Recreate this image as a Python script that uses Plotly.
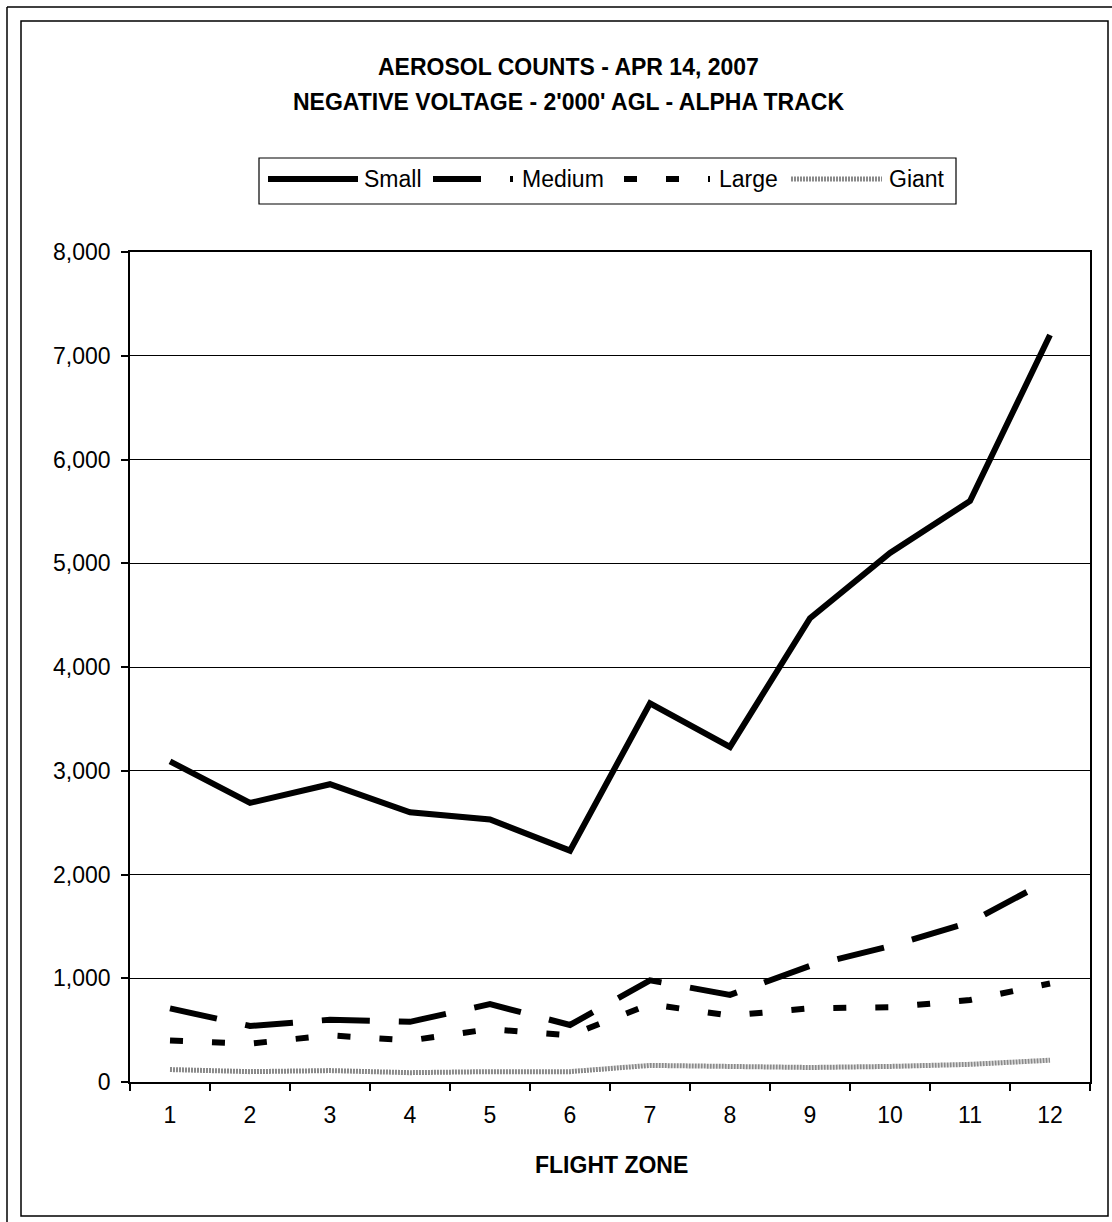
import plotly.graph_objects as go

# Flight zones and aerosol counts per particle size class
zones = ["1", "2", "3", "4", "5", "6", "7", "8", "9", "10", "11", "12"]
small = [3090, 2690, 2870, 2600, 2530, 2230, 3650, 3230, 4470, 5100, 5600, 7200]
medium = [710, 540, 600, 580, 750, 550, 980, 840, 1120, 1310, 1540, 1950]
large = [400, 370, 450, 400, 510, 450, 750, 640, 710, 720, 790, 950]
giant = [120, 100, 110, 90, 100, 100, 160, 150, 140, 150, 170, 210]

series_names = ["Small", "Medium", "Large", "Giant"]
y_ticks = [0, 1000, 2000, 3000, 4000, 5000, 6000, 7000, 8000]

title_lines = ["AEROSOL COUNTS - APR 14, 2007",
               "NEGATIVE VOLTAGE - 2'000' AGL - ALPHA TRACK"]
x_title = "FLIGHT ZONE"

W, H = 1112, 1222
L, R, T, B = 130, 22, 252, 140
PW, PH = W - L - R, H - T - B
FONT = "Liberation Sans, Arial, sans-serif"

styles = [
    dict(color="black", width=6, dash="solid"),
    dict(color="black", width=6, dash="48px,29px"),
    dict(color="black", width=6, dash="13px,29px"),
    dict(color="#8a8a8a", width=5, dash="2px,1px"),
]


def px(x):
    return (x - L) / PW


def py(y):
    return (H - B - y) / PH


fig = go.Figure()
for name, vals, st in zip(series_names, [small, medium, large, giant], styles):
    fig.add_trace(go.Scatter(x=zones, y=vals, name=name, mode="lines",
                             line=st, showlegend=False))

shapes = []
annotations = []

# page frames
shapes.append(dict(type="line", xref="paper", yref="paper",
                   x0=px(7), y0=py(7), x1=px(7), y1=py(1230),
                   line=dict(color="black", width=1.5)))
shapes.append(dict(type="line", xref="paper", yref="paper",
                   x0=px(7), y0=py(7), x1=px(1120), y1=py(7),
                   line=dict(color="black", width=1.5)))
shapes.append(dict(type="rect", xref="paper", yref="paper",
                   x0=px(21), y0=py(21), x1=px(1108), y1=py(1216),
                   line=dict(color="black", width=1.5)))

# legend box with sample lines
shapes.append(dict(type="rect", xref="paper", yref="paper",
                   x0=px(259), y0=py(158), x1=px(956), y1=py(204),
                   line=dict(color="black", width=1.2), fillcolor="white"))
samples = [(268, 358, 362), (433, 513, 520), (624, 710, 717), (791, 882, 887)]
for (x0, x1, tx), name, st in zip(samples, series_names, styles):
    shapes.append(dict(type="line", xref="paper", yref="paper",
                       x0=px(x0), y0=py(179), x1=px(x1), y1=py(179),
                       line=st))
    annotations.append(dict(text=name, xref="paper", yref="paper",
                            x=px(tx), y=py(179), xanchor="left", yanchor="middle",
                            showarrow=False,
                            font=dict(family=FONT, size=23, color="black")))

# titles
for i, line in enumerate(title_lines):
    annotations.append(dict(text="<b>%s</b>" % line, xref="paper", yref="paper",
                            x=px(568), y=py(67 + 35 * i), xanchor="center",
                            yanchor="middle", showarrow=False,
                            font=dict(family=FONT, size=23, color="black")))
annotations.append(dict(text="<b>%s</b>" % x_title, xref="paper", yref="paper",
                        x=px(611), y=py(1165), xanchor="center", yanchor="middle",
                        showarrow=False,
                        font=dict(family=FONT, size=23, color="black")))

fig.update_layout(
    width=W, height=H,
    margin=dict(l=L, r=R, t=T, b=B),
    paper_bgcolor="white", plot_bgcolor="white",
    font=dict(family=FONT, size=23, color="black"),
    shapes=shapes, annotations=annotations,
    showlegend=False,
)
fig.update_xaxes(type="category", range=[-0.5, len(zones) - 0.5],
                 tickson="boundaries", ticks="outside",
                 ticklen=7, tickwidth=1.5, tickcolor="black",
                 showline=True, linecolor="black", linewidth=1.5, mirror=True,
                 showgrid=False, ticklabelstandoff=12,
                 tickfont=dict(family=FONT, size=23, color="black"))
fig.update_yaxes(range=[0, 8000], tickvals=y_ticks, tickformat=",",
                 ticks="outside", ticklen=7, tickwidth=1.5, tickcolor="black",
                 showline=True, linecolor="black", linewidth=1.5, mirror=True,
                 showgrid=True, gridcolor="black", gridwidth=1, zeroline=False,
                 ticklabelstandoff=6,
                 tickfont=dict(family=FONT, size=23, color="black"))

fig.write_html("out.html")
